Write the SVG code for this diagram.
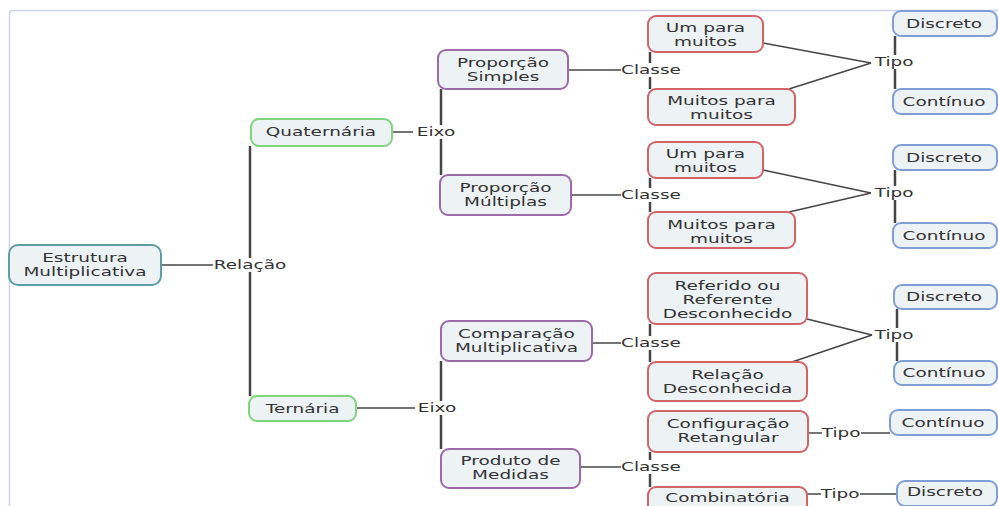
<svg xmlns="http://www.w3.org/2000/svg" width="998" height="506" viewBox="0 0 998 506">
<style>
.t { font-family: "DejaVu Sans", Verdana, sans-serif; font-size: 13px; fill: #333; text-anchor: middle; transform-box: fill-box; transform-origin: center; transform: scaleX(1.42); }
.box { fill: #edf2f5; stroke-width: 2; }
.root { stroke: #5e9ea3; }
.green { stroke: #7fd47d; }
.purple { stroke: #9c6aa9; }
.red { stroke: #d06466; }
.blue { stroke: #7f9ed6; }
.c line { stroke: #464646; stroke-width: 1.5; fill: none; }
.c line.v { stroke-width: 2.5; }
</style>
<rect x="0" y="0" width="998" height="506" fill="#ffffff"/>
<path d="M9.5 506 V14 Q9.5 10.5 13 10.5 H998" fill="none" stroke="#cbd3e8" stroke-width="1.5"/>

<g class="c" id="connectors">
  <line x1="161" y1="265" x2="213" y2="265"/>
  <line class="v" x1="250" y1="146" x2="250" y2="258"/>
  <line class="v" x1="250" y1="272" x2="250" y2="396"/>
  <line x1="392" y1="132" x2="413" y2="132"/>
  <line class="v" x1="441" y1="89" x2="441" y2="125"/>
  <line class="v" x1="441" y1="139" x2="441" y2="175"/>
  <line x1="568" y1="70" x2="621" y2="70"/>
  <line class="v" x1="650" y1="52" x2="650" y2="63"/>
  <line class="v" x1="650" y1="77" x2="650" y2="89"/>
  <line x1="763" y1="43" x2="871" y2="63"/>
  <line x1="789" y1="89" x2="871" y2="63"/>
  <line class="v" x1="895" y1="36" x2="895" y2="55"/>
  <line class="v" x1="895" y1="69" x2="895" y2="89"/>
  <line x1="571" y1="195" x2="621" y2="195"/>
  <line class="v" x1="650" y1="178" x2="650" y2="188"/>
  <line class="v" x1="650" y1="202" x2="650" y2="212"/>
  <line x1="763" y1="170" x2="871" y2="193"/>
  <line x1="789" y1="212" x2="871" y2="193"/>
  <line class="v" x1="895" y1="170" x2="895" y2="186"/>
  <line class="v" x1="895" y1="200" x2="895" y2="223"/>
  <line x1="356" y1="408" x2="415" y2="408"/>
  <line class="v" x1="441" y1="361" x2="441" y2="401"/>
  <line class="v" x1="441" y1="415" x2="441" y2="449"/>
  <line x1="592" y1="343" x2="621" y2="343"/>
  <line class="v" x1="650" y1="324" x2="650" y2="336"/>
  <line class="v" x1="650" y1="350" x2="650" y2="362"/>
  <line x1="807" y1="319" x2="872" y2="335"/>
  <line x1="792" y1="362" x2="872" y2="335"/>
  <line class="v" x1="897" y1="309" x2="897" y2="328"/>
  <line class="v" x1="897" y1="342" x2="897" y2="361"/>
  <line x1="580" y1="467" x2="621" y2="467"/>
  <line class="v" x1="650" y1="452" x2="650" y2="460"/>
  <line class="v" x1="650" y1="474" x2="650" y2="487"/>
  <line x1="808" y1="433" x2="822" y2="433"/>
  <line x1="861" y1="433" x2="890" y2="433"/>
  <line x1="807" y1="494" x2="821" y2="494"/>
  <line x1="860" y1="494" x2="897" y2="494"/>
</g>

<g id="labels">
  <text class="t" x="250" y="269.5">Relação</text>
  <text class="t" x="436" y="136.5">Eixo</text>
  <text class="t" x="437" y="412.5">Eixo</text>
  <text class="t" x="651" y="74.5">Classe</text>
  <text class="t" x="651" y="199.5">Classe</text>
  <text class="t" x="651" y="347.5">Classe</text>
  <text class="t" x="651" y="471.5">Classe</text>
  <text class="t" x="894" y="66.5">Tipo</text>
  <text class="t" x="894" y="197.5">Tipo</text>
  <text class="t" x="894" y="339.5">Tipo</text>
  <text class="t" x="841" y="437.5">Tipo</text>
  <text class="t" x="840" y="498.5">Tipo</text>
</g>

<g id="n_estrutura">
  <rect class="box root" x="9" y="245" width="152" height="40" rx="9"/>
  <text class="t" x="85" y="262"><tspan x="85">Estrutura</tspan><tspan x="85" dy="14">Multiplicativa</tspan></text>
</g>
<g id="n_quaternaria">
  <rect class="box green" x="251" y="119" width="141" height="27" rx="8"/>
  <text class="t" x="321" y="136.5">Quaternária</text>
</g>
<g id="n_ternaria">
  <rect class="box green" x="249" y="396" width="107" height="25" rx="8"/>
  <text class="t" x="302.5" y="413">Ternária</text>
</g>
<g id="n_prop_simples">
  <rect class="box purple" x="438" y="50" width="130" height="39" rx="8"/>
  <text class="t" x="503" y="67.5"><tspan x="503">Proporção</tspan><tspan x="503" dy="13.5">Simples</tspan></text>
</g>
<g id="n_prop_multiplas">
  <rect class="box purple" x="440" y="175" width="131" height="40" rx="8"/>
  <text class="t" x="505.5" y="192.5"><tspan x="505.5">Proporção</tspan><tspan x="505.5" dy="13.5">Múltiplas</tspan></text>
</g>
<g id="n_comparacao">
  <rect class="box purple" x="441" y="321" width="151" height="40" rx="8"/>
  <text class="t" x="516.5" y="338.5"><tspan x="516.5">Comparação</tspan><tspan x="516.5" dy="14">Multiplicativa</tspan></text>
</g>
<g id="n_produto">
  <rect class="box purple" x="441" y="449" width="139" height="39" rx="8"/>
  <text class="t" x="510.5" y="465.5"><tspan x="510.5">Produto de</tspan><tspan x="510.5" dy="14">Medidas</tspan></text>
</g>

<g id="n_um1">
  <rect class="box red" x="648" y="16" width="115" height="36" rx="8"/>
  <text class="t" x="705.5" y="32.5"><tspan x="705.5">Um para</tspan><tspan x="705.5" dy="13.5">muitos</tspan></text>
</g>
<g id="n_muitos1">
  <rect class="box red" x="648" y="89" width="147" height="36" rx="8"/>
  <text class="t" x="721.5" y="105.5"><tspan x="721.5">Muitos para</tspan><tspan x="721.5" dy="13.5">muitos</tspan></text>
</g>
<g id="n_um2">
  <rect class="box red" x="648" y="142" width="115" height="36" rx="8"/>
  <text class="t" x="705.5" y="158.5"><tspan x="705.5">Um para</tspan><tspan x="705.5" dy="13.5">muitos</tspan></text>
</g>
<g id="n_muitos2">
  <rect class="box red" x="648" y="212" width="147" height="36" rx="8"/>
  <text class="t" x="721.5" y="229.5"><tspan x="721.5">Muitos para</tspan><tspan x="721.5" dy="13.5">muitos</tspan></text>
</g>
<g id="n_referido">
  <rect class="box red" x="648" y="273" width="159" height="51" rx="8"/>
  <text class="t" x="727.5" y="290.5"><tspan x="727.5">Referido ou</tspan><tspan x="727.5" dy="14">Referente</tspan><tspan x="727.5" dy="14">Desconhecido</tspan></text>
</g>
<g id="n_relacao">
  <rect class="box red" x="648" y="362" width="159" height="39" rx="8"/>
  <text class="t" x="727.5" y="379"><tspan x="727.5">Relação</tspan><tspan x="727.5" dy="14">Desconhecida</tspan></text>
</g>
<g id="n_configuracao">
  <rect class="box red" x="648" y="411" width="160" height="41" rx="8"/>
  <text class="t" x="728" y="428"><tspan x="728">Configuração</tspan><tspan x="728" dy="14.5">Retangular</tspan></text>
</g>
<g id="n_combinatoria">
  <rect class="box red" x="648" y="487" width="159" height="36" rx="8"/>
  <text class="t" x="727.5" y="502">Combinatória</text>
</g>

<g id="n_discreto1">
  <rect class="box blue" x="893" y="11" width="104" height="25" rx="8"/>
  <text class="t" x="944" y="28">Discreto</text>
</g>
<g id="n_continuo1">
  <rect class="box blue" x="893" y="89" width="104" height="25" rx="8"/>
  <text class="t" x="944" y="106">Contínuo</text>
</g>
<g id="n_discreto2">
  <rect class="box blue" x="893" y="145" width="104" height="25" rx="8"/>
  <text class="t" x="944" y="162">Discreto</text>
</g>
<g id="n_continuo2">
  <rect class="box blue" x="893" y="223" width="104" height="25" rx="8"/>
  <text class="t" x="944" y="240">Contínuo</text>
</g>
<g id="n_discreto3">
  <rect class="box blue" x="894" y="285" width="103" height="24" rx="8"/>
  <text class="t" x="944" y="301.5">Discreto</text>
</g>
<g id="n_continuo3">
  <rect class="box blue" x="894" y="361" width="103" height="24" rx="8"/>
  <text class="t" x="944" y="377.5">Contínuo</text>
</g>
<g id="n_continuo4">
  <rect class="box blue" x="890" y="410" width="107" height="25" rx="8"/>
  <text class="t" x="943" y="427">Contínuo</text>
</g>
<g id="n_discreto4">
  <rect class="box blue" x="897" y="481" width="100" height="25" rx="8"/>
  <text class="t" x="945" y="496">Discreto</text>
</g>
</svg>
